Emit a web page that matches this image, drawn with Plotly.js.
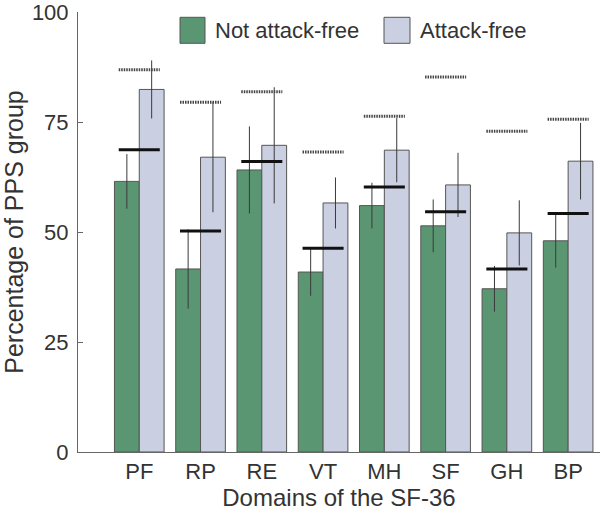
<!DOCTYPE html>
<html>
<head>
<meta charset="utf-8">
<script src="https://cdn.plot.ly/plotly-3.0.1.min.js"></script>
<style>
  html, body { margin: 0; padding: 0; background: #fff; }
  #chart { width: 600px; height: 513px; }
</style>
</head>
<body>
<div id="chart"></div>
<script>
// ---- data ----
var categories = ["PF", "RP", "RE", "VT", "MH", "SF", "GH", "BP"];
var seriesNames = ["Not attack-free", "Attack-free"];
var notFreeValues = [61.5, 41.6, 64.1, 40.9, 56.0, 51.4, 37.1, 48.0];
var notFreeErrors = [6.2, 9.0, 9.9, 5.4, 5.2, 6.0, 5.2, 6.1];
var freeValues = [82.4, 67.0, 69.7, 56.6, 68.6, 60.7, 49.8, 66.1];
var freeErrors = [6.6, 12.5, 13.2, 5.8, 7.3, 7.3, 7.4, 8.7];
var solidRefValues = [68.7, 50.2, 66.0, 46.3, 60.2, 54.6, 41.6, 54.2];
var dottedRefValues = [86.9, 79.5, 81.9, 68.2, 76.3, 85.2, 72.9, 75.6];
var yTickVals = [0, 25, 50, 75, 100];
var xTitle = "Domains of the SF-36";
var yTitle = "Percentage of PPS group";

// ---- style ----
var FONT = "Liberation Sans, Arial, sans-serif";
var TXT = "#333333";
var GREEN = "#5b9672";
var GREY = "#cbcfe2";
var EDGE = "#555555";
var idx = categories.map(function (c, i) { return i; });

function refLine(vals) {
  var xs = [], ys = [], half = 0.335;
  vals.forEach(function (v, i) {
    xs.push(i - half, i + half, null);
    ys.push(v, v, null);
  });
  return { x: xs, y: ys };
}
var solid = refLine(solidRefValues);
var dotted = refLine(dottedRefValues);

var traces = [
  {
    type: "bar", name: seriesNames[0], x: idx, y: notFreeValues,
    marker: { color: GREEN, line: { color: EDGE, width: 1 } },
    error_y: { type: "data", array: notFreeErrors, visible: true, color: "#3a3a3a", thickness: 1, width: 0 },
    showlegend: false
  },
  {
    type: "bar", name: seriesNames[1], x: idx, y: freeValues,
    marker: { color: GREY, line: { color: EDGE, width: 1 } },
    error_y: { type: "data", array: freeErrors, visible: true, color: "#3a3a3a", thickness: 1, width: 0 },
    showlegend: false
  },
  {
    type: "scatter", mode: "lines", x: solid.x, y: solid.y,
    line: { color: "#111111", width: 3 }, showlegend: false, hoverinfo: "skip"
  },
  {
    type: "scatter", mode: "lines", x: dotted.x, y: dotted.y,
    line: { color: "#444444", width: 3, dash: "1.5px,1px" }, showlegend: false, hoverinfo: "skip"
  }
];

// plot area in pixels: left 78, right 600, top 12, bottom 452
function px(xp) { return (xp - 78) / 522; }
function py(yp) { return (452 - yp) / 440; }

var layout = {
  width: 600, height: 513,
  margin: { l: 78, r: 0, t: 12, b: 61, pad: 0 },
  paper_bgcolor: "#ffffff", plot_bgcolor: "#ffffff",
  barmode: "group", bargap: 0.19, bargroupgap: 0,
  font: { family: FONT, color: TXT, size: 22 },
  xaxis: {
    range: [-1, 7.52], tickvals: idx, ticktext: categories,
    showgrid: false, zeroline: false, showline: true, linecolor: "#666666", linewidth: 1,
    ticks: "", tickfont: { family: FONT, size: 22, color: TXT },
    title: { text: xTitle, font: { family: FONT, size: 24, color: TXT }, standoff: 2 },
    automargin: false, fixedrange: true
  },
  yaxis: {
    range: [0, 100], tickvals: yTickVals, ticklabeloverflow: "allow",
    showgrid: false, zeroline: false, showline: true, linecolor: "#666666", linewidth: 1,
    ticks: "inside", ticklen: 5, tickcolor: "#666666", ticklabelstandoff: 4,
    tickfont: { family: FONT, size: 22, color: TXT },
    title: { text: yTitle, font: { family: FONT, size: 25, color: TXT }, standoff: 20 },
    automargin: false, fixedrange: true
  },
  shapes: [
    { type: "rect", xref: "paper", yref: "paper", x0: px(180), x1: px(205), y0: py(43.3), y1: py(17.3),
      fillcolor: GREEN, line: { color: EDGE, width: 1 } },
    { type: "rect", xref: "paper", yref: "paper", x0: px(384), x1: px(410), y0: py(43.3), y1: py(17.3),
      fillcolor: GREY, line: { color: EDGE, width: 1 } }
  ],
  annotations: [
    { xref: "paper", yref: "paper", x: px(213), y: py(30.5), xanchor: "left", yanchor: "middle",
      text: seriesNames[0], showarrow: false, font: { family: FONT, size: 22, color: TXT } },
    { xref: "paper", yref: "paper", x: px(418), y: py(30.5), xanchor: "left", yanchor: "middle",
      text: seriesNames[1], showarrow: false, font: { family: FONT, size: 22, color: TXT } }
  ]
};

Plotly.newPlot("chart", traces, layout, { displayModeBar: false, staticPlot: true });
</script>
</body>
</html>
